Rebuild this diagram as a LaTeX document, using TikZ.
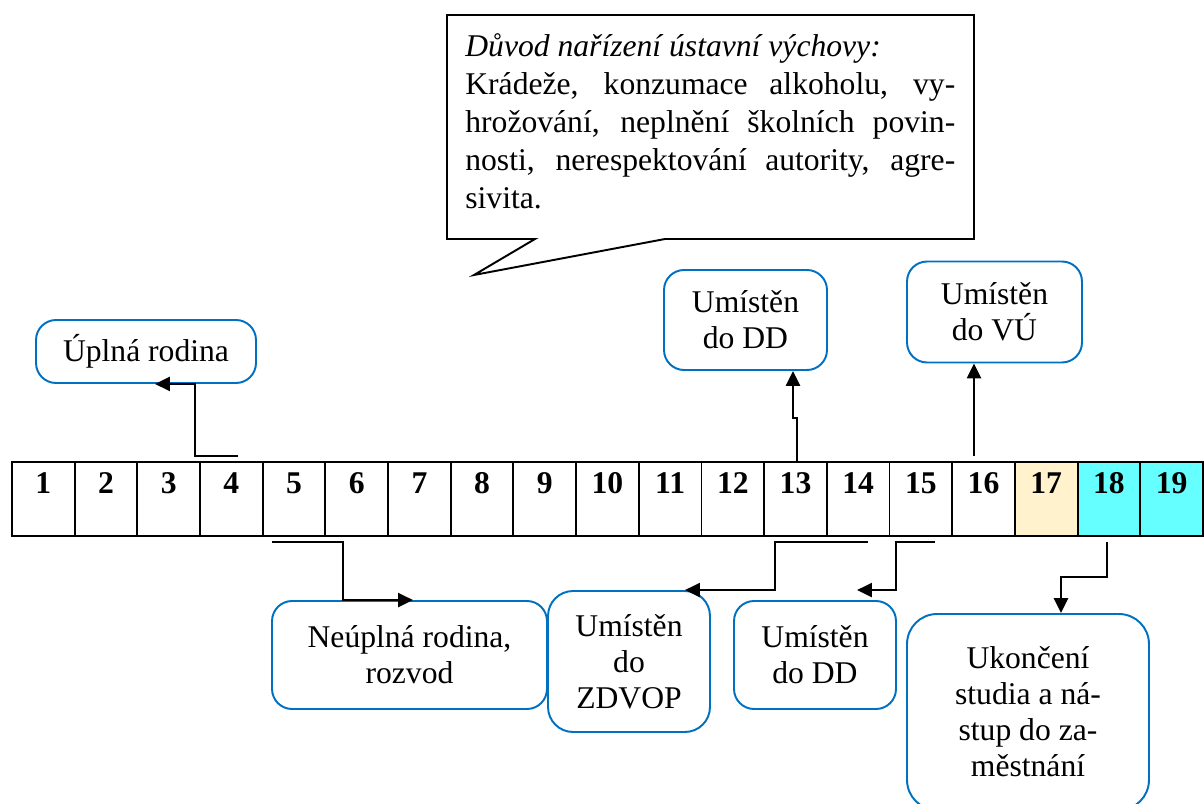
\documentclass[tikz,border=0pt]{standalone}
\usepackage{fontspec}
\setmainfont{Liberation Serif}
\usetikzlibrary{positioning, arrows.meta, calc}
\usepackage{xcolor}
\definecolor{boxblue}{RGB}{0,112,192}
\definecolor{cellcream}{RGB}{255,242,204}
\definecolor{cellcyan}{RGB}{102,255,255}

\begin{document}
\begin{tikzpicture}[x=0.02cm, y=-0.02cm,
  cell/.style={draw, line width=1.1pt, minimum width=1.254cm, inner sep=0pt,
    text height=0.62cm, text depth=0.86cm, font=\fontsize{18}{20}\selectfont\bfseries},
  event/.style={draw=boxblue, line width=1.1pt, rounded corners=0.4cm, align=center,
    inner sep=2pt, font=\fontsize{18}{20.5}\selectfont},
  reason/.style={text width=9.8cm, align=justify, inner sep=0pt, font=\fontsize{18}{21.6}\selectfont},
  arr/.style={-{Triangle[length=8.5pt,width=8pt]}, line width=1.2pt}]
\clip (0,0) rectangle (1204,804);
\fill[white] (0,0) rectangle (1204,804);

% callout
\draw[line width=1.1pt] (447,15) -- (974,15) -- (974,239) -- (665,239) -- (474,275) -- (535,239) -- (447,239) -- cycle;
\node[reason, anchor=north west] (duvod) at (465,33) {\spaceskip=0pt\xspaceskip=0pt
\textit{Důvod nařízení ústavní výchovy:}\\
\makebox[9.8cm][s]{Krádeže, konzumace alkoholu, vy-}\\
\makebox[9.8cm][s]{hrožování, neplnění školních povin-}\\
\makebox[9.8cm][s]{nosti, nerespektování autority, agre-}\\
sivita.};

% time line
\foreach \i in {1,...,19} {
  \ifnum\i=17 \def\cellfill{cellcream}\else\ifnum\i>17 \def\cellfill{cellcyan}\else\def\cellfill{white}\fi\fi
  \node[cell, fill=\cellfill] (c\i) at ({12+62.68*(\i-0.5)}, 499) {\i};
}

% events
\node[event, minimum width=4.4cm, minimum height=1.26cm] (up) at (146,351.5) {Úplná rodina};
\node[event, minimum width=3.26cm, minimum height=2cm] (dd1) at (745.5,320) {Umístěn\\do DD};
\node[event, minimum width=3.5cm, minimum height=2.02cm] (vu) at (994.5,312) {Umístěn\\do VÚ};
\node[event, minimum width=5.5cm, minimum height=2.16cm] (neu) at (409.5,655) {Neúplná rodina,\\rozvod};
\node[event, minimum width=3.24cm, minimum height=2.82cm, rounded corners=0.5cm] (zdvop) at (629,661.5) {Umístěn\\do\\ZDVOP};
\node[event, minimum width=3.24cm, minimum height=2.16cm] (dd2) at (815,655) {Umístěn\\do DD};
\node[event, minimum width=4.84cm, minimum height=3.92cm, rounded corners=0.6cm] (uk) at (1028,712) {Ukončení\\studia a ná-\\stup do za-\\městnání};

% arrows
\coordinate (s4) at (238,456);
\draw[arr] (s4) -- ++(-43,0) |- ([xshift=0.18cm]up.south);
\draw[arr] ([xshift=0.03cm]c13.north) -- ++(0,-43) -- ++(-4,0) coordinate (j13) -- (j13 |- dd1.south);
\coordinate (s16) at (974,456);
\draw[arr] (s16) -- (s16 |- vu.south);
\coordinate (s5) at (272,542);
\draw[arr] (s5) -- ++(71,0) |- ([xshift=0.07cm]neu.north);
\coordinate (s14) at (868,542);
\draw[arr] (s14) -- ++(-93,0) |- ([xshift=1.12cm]zdvop.north);
\coordinate (s15) at (935,542);
\draw[arr] (s15) -- ++(-39,0) |- ([xshift=0.84cm,yshift=0.2cm]dd2.north);
\coordinate (s18) at (1107,542);
\draw[arr] (s18) -- ++(0,35) -| ([xshift=0.66cm]uk.north);
\end{tikzpicture}
\end{document}
